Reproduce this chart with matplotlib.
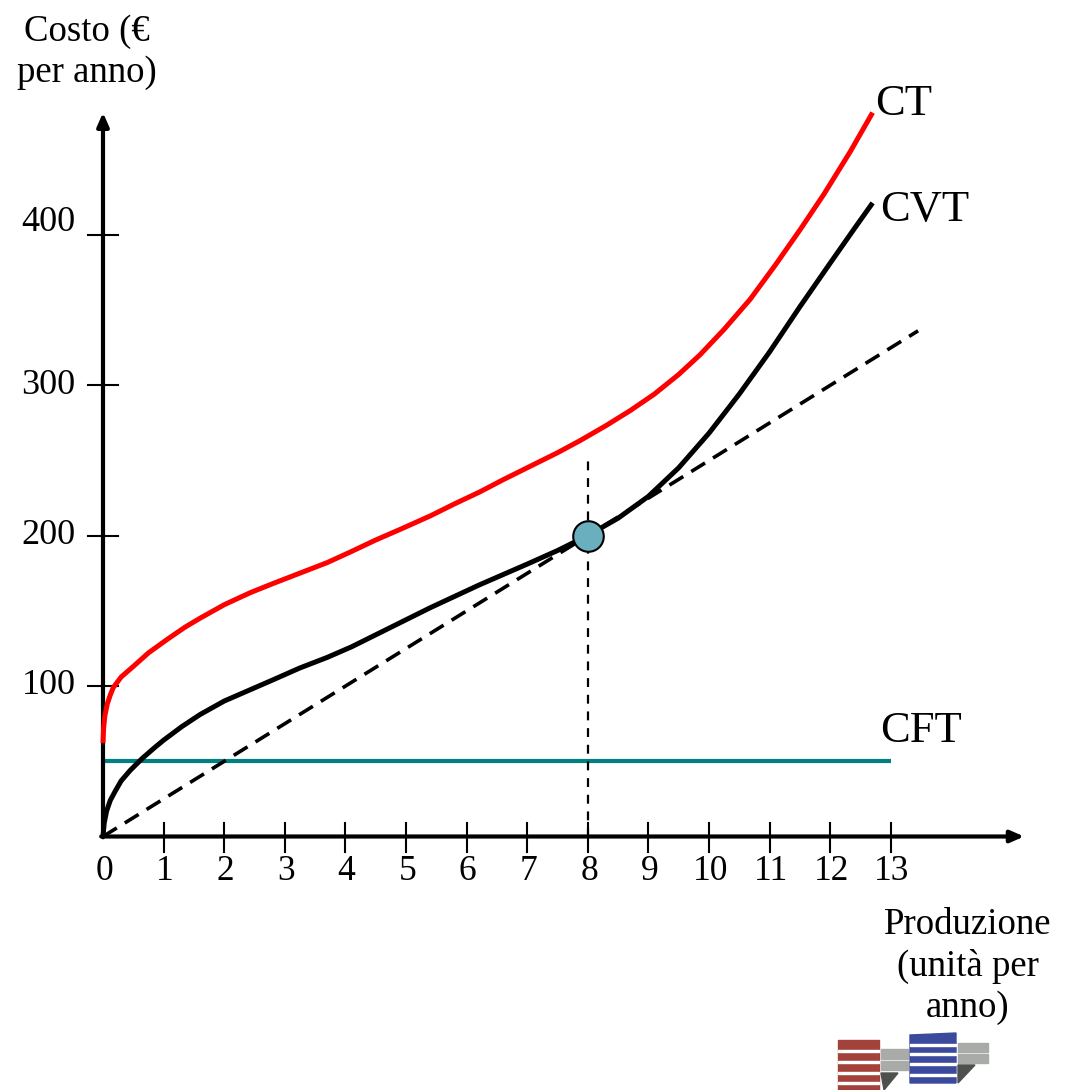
import matplotlib

matplotlib.use("Agg")
import matplotlib.pyplot as plt
from matplotlib.patches import Polygon, Rectangle

plt.rcParams["font.family"] = ["Liberation Serif", "DejaVu Serif"]

# Dati (produzione, costo in euro)
ct_x = [0, 0.01, 0.03, 0.07, 0.12, 0.17, 0.3, 0.5, 0.75, 1.06, 1.35, 1.6,
        2.0, 2.43, 2.8, 3.25, 3.7, 4.08, 4.5, 4.9, 5.4, 5.8, 6.22, 6.6,
        7.05, 7.5, 7.87, 8.3, 8.7, 9.1, 9.5, 9.85, 10.25, 10.68, 11.1,
        11.5, 11.9, 12.33, 12.7]
ct_y = [62, 72, 80, 88, 94, 99, 106, 113, 122, 131, 139, 145,
        154, 162, 168, 175, 182, 189, 197, 204, 213, 221, 229, 237,
        246, 255, 263, 273, 283, 294, 307, 320, 337, 357, 380,
        403, 427, 455, 481]

cvt_x = [0, 0.02, 0.06, 0.12, 0.2, 0.3, 0.45, 0.65, 0.85, 1.0, 1.3, 1.6,
         2.0, 2.4, 2.8, 3.25, 3.7, 4.1, 4.5, 4.9, 5.4, 5.8, 6.2, 6.6,
         7.0, 7.5, 8.0, 8.5, 9.0, 9.5, 10.0, 10.5, 11.0, 11.5, 12.0,
         12.4, 12.7]
cvt_y = [0, 9, 17, 24, 30, 37, 44, 52, 59, 64, 73, 81,
         90, 97, 104, 112, 119, 126, 134, 142, 152, 159.5, 167, 174,
         181, 190, 200, 211.5, 226, 245, 268, 294, 322, 352, 381,
         404, 421]

cft_x = [0, 13]
cft_y = [50, 50]

tangente_x = [0, 13.45]
tangente_y = [0, 336]

punto = (8, 200)

x_ticks = list(range(0, 14))
y_ticks = [100, 200, 300, 400]
y_label_shift = [0, 0, 0, 8]

W, H = 1067, 1090


def fig_xy(px, py):
    """pixel dell'immagine -> coordinate della figura"""
    return px / W, 1 - py / H


fig = plt.figure(figsize=(W / 100, H / 100), dpi=100)
ax = fig.add_axes([0, 0, 1, 1])
ax.set_xlim(-103 / 60.6, (W - 103) / 60.6)
ax.set_ylim((836.5 - H) / 1.505, 836.5 / 1.505)
ax.axis("off")

# assi con frecce
freccia = "-|>,head_length=0.8,head_width=0.35"
ax.annotate("", xy=(0, 481), xytext=(0, -0.5),
            arrowprops=dict(arrowstyle=freccia, lw=3, color="black",
                            shrinkA=0, shrinkB=0))
ax.annotate("", xy=(15.2, 0), xytext=(-0.03, 0),
            arrowprops=dict(arrowstyle=freccia, lw=3, color="black",
                            shrinkA=0, shrinkB=0))

# tacche
for t in x_ticks[1:]:
    ax.plot([t, t], [-10, 9], color="black", lw=1.5)
for t in y_ticks:
    ax.plot([-0.25, 0.25], [t, t], color="black", lw=1.5)

for t in x_ticks:
    ax.text(t + 0.02, -23, str(t), ha="center", va="center", fontsize=25.5)
for t, s in zip(y_ticks, y_label_shift):
    ax.text(-0.45, t + s, str(t), ha="right", va="center", fontsize=26)

# curve
ax.plot(cft_x, cft_y, color="#008080", lw=3, solid_capstyle="butt", zorder=2)
tang, = ax.plot(tangente_x, tangente_y, color="black", lw=2.6, zorder=2)
tang.set_dashes((4.5, 2.6))
ax.plot(ct_x, ct_y, color="#ff0000", lw=3.6, solid_capstyle="butt",
        solid_joinstyle="round", zorder=3)
ax.plot(cvt_x, cvt_y, color="black", lw=3.6, solid_capstyle="butt",
        solid_joinstyle="round", zorder=3)

vert, = ax.plot([punto[0], punto[0]], [0, 251], color="black", lw=1.6, zorder=2)
vert.set_dashes((4, 3.5))
ax.plot(*punto, "o", ms=22, mfc="#6aafbd", mec="black", mew=1.5, zorder=5)

# etichette curve
ax.text(12.74, 487, "CT", fontsize=32, ha="left", va="center")
ax.text(12.82, 416, "CVT", fontsize=32, ha="left", va="center")
ax.text(12.82, 70, "CFT", fontsize=32, ha="left", va="center")

# titoli degli assi
fig.text(*fig_xy(87, 52), "Costo (€\nper anno)", fontsize=26.5, ha="center",
         va="center", linespacing=1.25)
fig.text(*fig_xy(968, 966), "Produzione\n(unità per\nanno)", fontsize=26.5,
         ha="center", va="center", linespacing=1.25)

# logo in basso a destra
la = fig.add_axes([0, 0, 1, 1])
la.set_xlim(0, W)
la.set_ylim(H, 0)
la.axis("off")
la.add_patch(Rectangle((838, 1040), 41, 52, color="#a3423a"))
for yy in [1050, 1061, 1072, 1082]:
    la.add_patch(Rectangle((838, yy), 41, 1.5, color="white"))
la.add_patch(Rectangle((881, 1049), 27, 10, color="#a9aba9"))
la.add_patch(Rectangle((881, 1061), 27, 9, color="#a9aba9"))
la.add_patch(Polygon([(881, 1073), (898, 1073), (884, 1090)], color="#4e504e"))
la.add_patch(Polygon([(910, 1035), (956, 1033), (956, 1083), (910, 1083)],
                     color="#3b4a9c"))
for yy in [1044, 1053, 1063, 1074]:
    la.add_patch(Rectangle((910, yy), 46, 1.5, color="white"))
la.add_patch(Rectangle((958, 1043), 30, 9, color="#a9aba9"))
la.add_patch(Rectangle((958, 1054), 30, 9, color="#a9aba9"))
la.add_patch(Polygon([(958, 1065), (975, 1065), (958, 1083)], color="#4e504e"))

fig.savefig("out.png", dpi=100)
